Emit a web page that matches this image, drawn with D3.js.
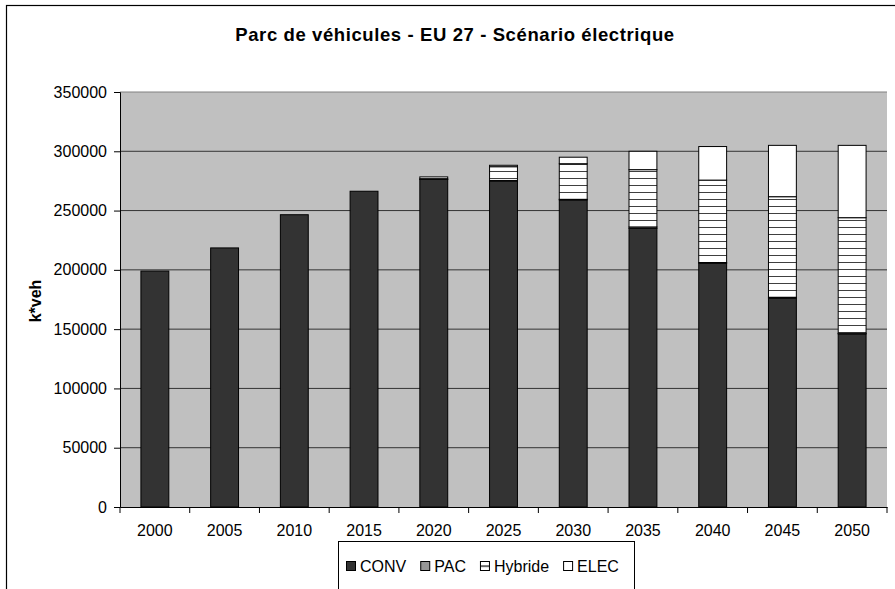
<!DOCTYPE html>
<html>
<head>
<meta charset="utf-8">
<script src="https://cdn.jsdelivr.net/npm/d3@7"></script>
<style>
	body { margin: 0; background: #ffffff; }
	svg text { font-family: "Liberation Sans", Arial, sans-serif; fill: #000; }
</style>
</head>
<body>
<script>
// values (k*veh)
var years = ["2000", "2005", "2010", "2015", "2020", "2025", "2030", "2035", "2040", "2045", "2050"];
var conv = [199000, 218500, 246500, 266300, 276300, 275000, 259000, 235000, 205500, 176000, 146000];
var pac = [0, 0, 0, 0, 300, 400, 500, 1200, 700, 900, 500];
var hybride = [0, 0, 0, 0, 1800, 11600, 30000, 48300, 69500, 84800, 97500];
var elec = [0, 0, 0, 0, 0, 1200, 5500, 15500, 28300, 43300, 61000];
var seriesNames = ["CONV", "PAC", "Hybride", "ELEC"];
var yTicks = [0, 50000, 100000, 150000, 200000, 250000, 300000, 350000];

var SVG_WIDTH = 895, SVG_HEIGHT = 589;
var PLOT = { LEFT: 120, RIGHT: 887, TOP: 92, BOTTOM: 507 };
var FILLS = { "CONV": "#333333", "PAC": "#969696", "Hybride": "url(#hatch)", "ELEC": "#ffffff" };

var rows = years.map(function (y, i) {
	return { year: y, CONV: conv[i], PAC: pac[i], Hybride: hybride[i], ELEC: elec[i] };
});

var svg = d3.select("body").append("svg")
	.attr("width", SVG_WIDTH)
	.attr("height", SVG_HEIGHT);

var defs = svg.append("defs");

// horizontal hatch for Hybride
var pattern = defs.append("pattern")
	.attr("id", "hatch")
	.attr("patternUnits", "userSpaceOnUse")
	.attr("width", 8)
	.attr("height", 7);
pattern.append("rect").attr("width", 8).attr("height", 7).attr("fill", "#ffffff");
pattern.append("rect").attr("y", 3).attr("width", 8).attr("height", 1).attr("fill", "#404040");

// legend hatch: one line through the middle of the small square
var lp = defs.append("pattern")
	.attr("id", "legendHatch")
	.attr("patternUnits", "userSpaceOnUse")
	.attr("width", 10)
	.attr("height", 10)
	.attr("y", 561.5);
lp.append("rect").attr("width", 10).attr("height", 10).attr("fill", "#ffffff");
lp.append("rect").attr("y", 4).attr("width", 10).attr("height", 1.2).attr("fill", "#000");

// chart area border
svg.append("rect")
	.attr("x", 6.5).attr("y", 5.5)
	.attr("width", 900).attr("height", 600)
	.attr("fill", "#ffffff")
	.attr("stroke", "#000")
	.attr("stroke-width", 1.2);

svg.append("text")
	.attr("x", 455)
	.attr("y", 41)
	.attr("text-anchor", "middle")
	.style("font-size", "18.5px")
	.style("font-weight", "bold")
	.style("letter-spacing", "0.6px")
	.text("Parc de véhicules - EU 27 - Scénario électrique");

const xScale = d3.scaleBand()
	.domain(years)
	.range([PLOT.LEFT, PLOT.RIGHT])
	.paddingInner(0.6)
	.paddingOuter(0.3);
const yScale = d3.scaleLinear()
	.domain([0, 350000])
	.range([PLOT.BOTTOM, PLOT.TOP]);

// plot background
svg.append("rect")
	.attr("x", PLOT.LEFT).attr("y", PLOT.TOP)
	.attr("width", PLOT.RIGHT - PLOT.LEFT)
	.attr("height", PLOT.BOTTOM - PLOT.TOP)
	.attr("fill", "#c0c0c0");

// gridlines
svg.append("g").selectAll("line")
	.data(yTicks.slice(1))
	.enter()
	.append("line")
	.attr("x1", PLOT.LEFT).attr("x2", PLOT.RIGHT)
	.attr("y1", function (d) { return yScale(d); })
	.attr("y2", function (d) { return yScale(d); })
	.attr("stroke", function (d) { return d == 350000 ? "#808080" : "#333333"; })
	.attr("stroke-width", 1);

// stacked bars
var stack = d3.stack().keys(seriesNames);
var layers = stack(rows);

svg.append("g").selectAll("g")
	.data(layers)
	.enter()
	.append("g")
	.attr("fill", function (d) { return FILLS[d.key]; })
	.selectAll("rect")
	.data(function (d) { return d.filter(function (p) { return p[1] - p[0] > 0; }); })
	.enter()
	.append("rect")
	.attr("x", function (d) { return xScale(d.data.year); })
	.attr("y", function (d) { return yScale(d[1]); })
	.attr("width", xScale.bandwidth())
	.attr("height", function (d) { return yScale(d[0]) - yScale(d[1]); })
	.attr("stroke", "#000")
	.attr("stroke-width", 1);

// y axis
var axisLeft = d3.axisLeft(yScale).tickValues(yTicks).tickSize(6).tickPadding(7).tickFormat(d3.format("d"));
var gy = svg.append("g")
	.attr("class", "yaxis")
	.attr("transform", "translate(" + PLOT.LEFT + ",0)")
	.call(axisLeft);
gy.select(".domain").attr("stroke", "#000");
gy.selectAll("text").style("font-size", "16px").style("font-family", "'Liberation Sans', Arial, sans-serif");

// x axis: labels at band centres, ticks at category boundaries
var axisBottom = d3.axisBottom(xScale).tickSize(0).tickPadding(18);
var gx = svg.append("g")
	.attr("class", "xaxis")
	.attr("transform", "translate(0," + PLOT.BOTTOM + ")")
	.call(axisBottom);
gx.select(".domain").attr("stroke", "#000");
gx.selectAll("text").style("font-size", "16px").style("font-family", "'Liberation Sans', Arial, sans-serif");

var bounds = years.map(function (y) { return xScale(y) - xScale.step() * 0.3; });
bounds.push(PLOT.RIGHT);
gx.selectAll(".bound")
	.data(bounds)
	.enter()
	.append("line")
	.attr("class", "bound")
	.attr("x1", function (d) { return d; })
	.attr("x2", function (d) { return d; })
	.attr("y1", 0).attr("y2", 6)
	.attr("stroke", "#000");

// y axis title
svg.append("text")
	.attr("transform", "translate(41,301) rotate(-90)")
	.attr("text-anchor", "middle")
	.style("font-size", "16px")
	.style("font-weight", "bold")
	.text("k*veh");

// legend
var legend = svg.append("g");
legend.append("rect")
	.attr("x", 338.5).attr("y", 541.5)
	.attr("width", 296).attr("height", 52)
	.attr("fill", "#ffffff")
	.attr("stroke", "#000")
	.attr("stroke-width", 1);

var lx = 346;
seriesNames.forEach(function (name) {
	legend.append("rect")
		.attr("x", lx + 0.5).attr("y", 561.5)
		.attr("width", 9).attr("height", 9)
		.attr("fill", FILLS[name] == "url(#hatch)" ? "url(#legendHatch)" : FILLS[name])
		.attr("stroke", "#000")
		.attr("stroke-width", 1);
	var t = legend.append("text")
		.attr("x", lx + 14)
		.attr("y", 572)
		.style("font-size", "16px")
		.text(name);
	lx = lx + 14 + t.node().getComputedTextLength() + 14;
});
</script>
</body>
</html>
